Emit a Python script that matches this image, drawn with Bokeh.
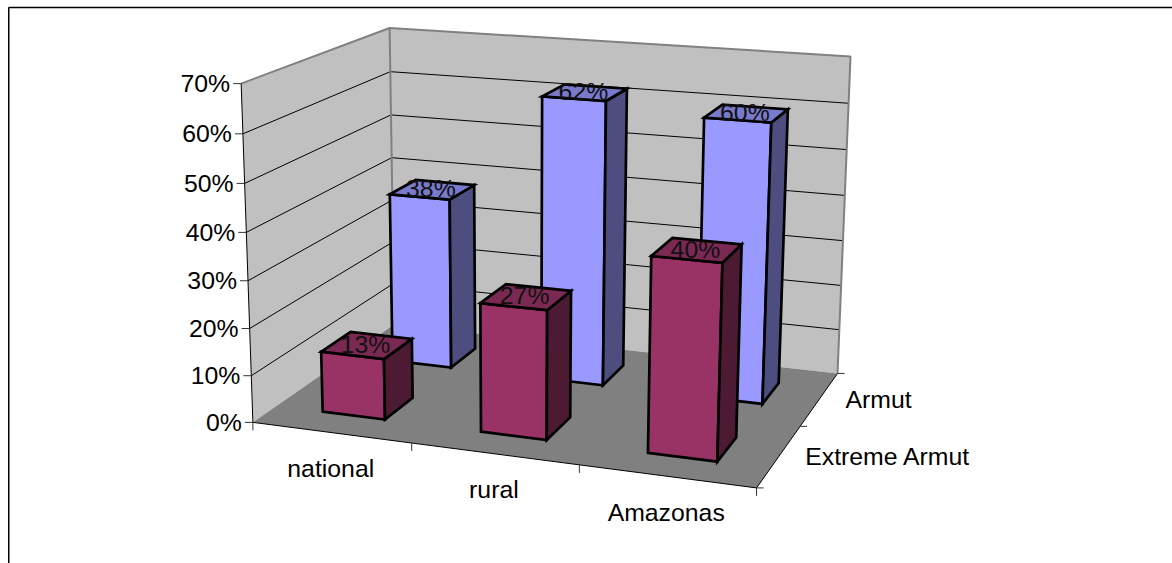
import numpy as np
from bokeh.core.properties import value
from bokeh.embed import file_html
from bokeh.models import ColumnDataSource
from bokeh.plotting import figure
from bokeh.resources import INLINE

categories = ["national", "rural", "Amazonas"]
series_names = ["Extreme Armut", "Armut"]
extreme_armut = [13, 27, 40]
armut = [38, 62, 60]
value_ticks = [0, 10, 20, 30, 40, 50, 60, 70]
z_max = 70

FONT = "Liberation Sans"
FONT_SIZE = "24.8px"

# Perspective camera for the chart box: unit cube (category, depth, height) -> page pixels.
anchors = [
    ((0, 0, 0), (253, 421)), ((1, 0, 0), (756.5, 488)),
    ((0, 1, 0), (393, 325)), ((1, 1, 0), (837, 372)),
    ((0, 0, 1), (240, 82)), ((1, 0, 1), (767, 123)),
    ((0, 1, 1), (390, 28)), ((1, 1, 1), (850, 55)),
]
A, b = [], []
for (x, y, z), (u, v) in anchors:
    A.append([x, y, z, 1, 0, 0, 0, 0, -u * x, -u * y, -u * z])
    b.append(u)
    A.append([0, 0, 0, 0, x, y, z, 1, -v * x, -v * y, -v * z])
    b.append(v)
h = np.linalg.lstsq(np.array(A, float), np.array(b, float), rcond=None)[0]
H = np.append(h, 1.0).reshape(3, 4)


def project(x, y, z):
    u, v, w = H @ np.array([x, y, z, 1.0])
    return u / w, v / w


def quad(points):
    pts = [project(*pt) for pt in points]
    return [pt[0] for pt in pts], [pt[1] for pt in pts]


p = figure(width=1172, height=563, x_range=(0, 1172), y_range=(563, 0),
           output_backend="svg", toolbar_location=None, min_border=0,
           x_axis_location=None, y_axis_location=None)
p.xgrid.visible = False
p.ygrid.visible = False
p.outline_line_color = None
p.background_fill_color = "white"

# Chart frame, running off the page on the right and at the bottom.
p.line([9, 9], [563, 7], line_color="#808080", line_width=1)
p.line([8, 8], [563, 7], line_color="black", line_width=1)
p.line([8, 1172], [7, 7], line_color="black", line_width=1.4)

# Walls and floor.
WALL_EDGE = "#808080"
for face in ([(0, 0, 0), (0, 1, 0), (0, 1, 1), (0, 0, 1)],
             [(0, 1, 0), (1, 1, 0), (1, 1, 1), (0, 1, 1)]):
    xs, ys = quad(face)
    p.patch(xs, ys, fill_color="#C0C0C0", line_color=None)
xs, ys = quad([(0, 0, 0), (1, 0, 0), (1, 1, 0), (0, 1, 0)])
p.patch(xs, ys, fill_color="#808080", line_color=None)

# Horizontal gridlines across both walls.
for tick in value_ticks[1:-1]:
    z = tick / z_max
    xs, ys = quad([(0, 0, z), (0, 1, z), (1, 1, z)])
    p.line(xs, ys, line_color="black", line_width=1)

# Wall outlines.
for seg in ([(0, 0, 1), (0, 1, 1), (1, 1, 1), (1, 1, 0)], [(0, 1, 0), (0, 1, 1)]):
    xs, ys = quad(seg)
    p.line(xs, ys, line_color=WALL_EDGE, line_width=2)

# Axes lines and their tick marks.
for seg in ([(0, 0, 1), (0, 0, 0), (1, 0, 0), (1, 1, 0)],):
    xs, ys = quad(seg)
    p.line(xs, ys, line_color="black", line_width=1)
for tick in value_ticks:
    x0, y0 = project(0, 0, tick / z_max)
    p.line([x0 - 8, x0], [y0, y0], line_color="#333333", line_width=1)
for i in range(len(categories) + 1):
    x0, y0 = project(i / len(categories), 0, 0)
    p.line([x0, x0], [y0, y0 + 8], line_color="#333333", line_width=1)
for j in range(len(series_names) + 1):
    x0, y0 = project(1, j / len(series_names), 0)
    p.line([x0, x0 + 7], [y0, y0], line_color="#333333", line_width=1)


def draw_bar(i, j, val, front, top, side):
    n, m = len(categories), len(series_names)
    x0, x1 = (i + 0.3) / n, (i + 0.7) / n
    y0, y1 = (j + 0.3) / m, (j + 0.7) / m
    z = val / z_max
    faces = [
        ([(x0, y0, 0), (x1, y0, 0), (x1, y0, z), (x0, y0, z)], front),
        ([(x1, y0, 0), (x1, y1, 0), (x1, y1, z), (x1, y0, z)], side),
        ([(x0, y0, z), (x1, y0, z), (x1, y1, z), (x0, y1, z)], top),
    ]
    for pts, colour in faces:
        xs, ys = quad(pts)
        p.patch(xs, ys, fill_color=colour, line_color="black", line_width=2.7, line_join="miter")
    return project((x0 + x1) / 2, (y0 + y1) / 2, z)


# Back row first so the front row overlaps it.
label_x, label_y, label_text = [], [], []
for j, (vals, colours) in reversed(list(enumerate([
    (extreme_armut, ("#993366", "#7A2952", "#4D1A33")),
    (armut, ("#9999FF", "#7A7ACC", "#4D4D80")),
]))):
    for i, val in enumerate(vals):
        cx, cy = draw_bar(i, j, val, colours[0], colours[1], colours[2])
        label_x.append(cx - 1.5)
        label_y.append(cy - 1)
        label_text.append(f"{val}%")

labels = ColumnDataSource(dict(x=label_x, y=label_y, text=label_text))
p.text("x", "y", text="text", source=labels, text_font=value(FONT), text_font_size=FONT_SIZE,
       text_color="#111111", text_align="center", text_baseline="middle")

# Axis labels.
tx, ty = [], []
for tick in value_ticks:
    x0, y0 = project(0, 0, tick / z_max)
    tx.append(x0 - 11)
    ty.append(y0)
src = ColumnDataSource(dict(x=tx, y=ty, text=[f"{t}%" for t in value_ticks]))
p.text("x", "y", text="text", source=src, text_font=value(FONT), text_font_size=FONT_SIZE,
       text_color="black", text_align="right", text_baseline="middle")

cat_x, cat_y = [], []
for i in range(len(categories)):
    x0, y0 = project((i + 0.5) / len(categories), 0, 0)
    cat_x.append(x0 - 0.5)
    cat_y.append(y0 + 36)
src = ColumnDataSource(dict(x=cat_x, y=cat_y, text=categories))
p.text("x", "y", text="text", source=src, text_font=value(FONT), text_font_size=FONT_SIZE,
       text_color="black", text_align="center", text_baseline="middle")

ser_x, ser_y = [], []
for j in range(len(series_names)):
    x0, y0 = project(1, (j + 0.5) / len(series_names), 0)
    ser_x.append(x0 + 26)
    ser_y.append(y0 + 0.5)
src = ColumnDataSource(dict(x=ser_x, y=ser_y, text=series_names))
p.text("x", "y", text="text", source=src, text_font=value(FONT), text_font_size=FONT_SIZE,
       text_color="black", text_align="left", text_baseline="middle")

open("out.html", "w").write(file_html(p, INLINE))
